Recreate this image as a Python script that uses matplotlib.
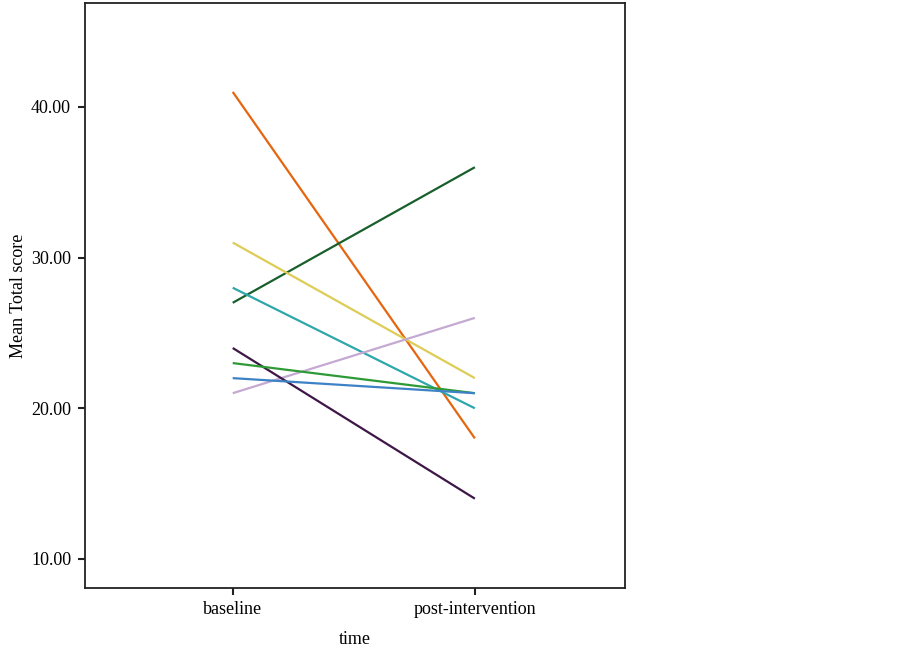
import matplotlib
matplotlib.use('Agg')
import matplotlib.pyplot as plt

# Données
time_labels = ['baseline', 'post-intervention']
baseline = [41, 27, 31, 28, 21, 24, 23, 22]
post = [18, 36, 22, 20, 26, 14, 21, 21]
colors = ['#e5660f', '#185f2c', '#ddcc55', '#2fa6ad', '#c4a9d2', '#3e1747', '#2e9a36', '#3d82c6']
y_ticks = [10, 20, 30, 40]

plt.rcParams['font.family'] = ['Liberation Serif', 'DejaVu Serif']

fig = plt.figure(figsize=(9.02, 6.49), dpi=100)
ax = fig.add_axes([85 / 902, 61 / 649, 540 / 902, 585 / 649])

for b, p, c in zip(baseline, post, colors):
    ax.plot([0, 1], [b, p], color=c, lw=1.6, solid_capstyle='butt')

ax.set_xlim(-0.61, 1.62)
ax.set_ylim(8.07, 46.9)
ax.set_xticks([0, 1])
ax.set_xticklabels(time_labels)
ax.set_yticks(y_ticks)
ax.set_yticklabels([f"{v:.2f}" for v in y_ticks])

for s in ax.spines.values():
    s.set_color('#222222')
    s.set_linewidth(1.3)
ax.tick_params(direction='out', length=5, width=1.5, color='#222222', labelsize=13, pad=5)
ax.tick_params(axis='x', pad=4)

ax.set_xlabel('time', fontsize=13, labelpad=10)
ax.set_ylabel('Mean Total score', fontsize=13, labelpad=3)

fig.savefig('out.png', dpi=100)
